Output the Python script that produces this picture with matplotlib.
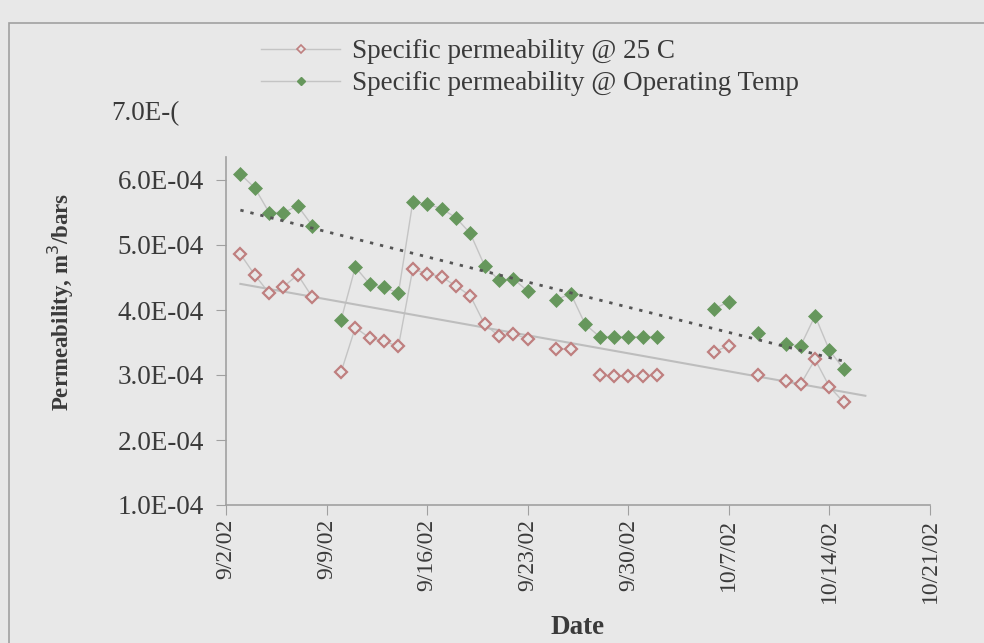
import numpy as np
import pandas as pd
import matplotlib
matplotlib.use("Agg")
import matplotlib.pyplot as plt
import matplotlib.dates as mdates
from matplotlib.lines import Line2D
from matplotlib.patches import Rectangle
import datetime as dt

plt.rcParams['font.family'] = ['Liberation Serif', 'DejaVu Serif']

# measurement days (2002)
dates = ['09-03', '09-04', '09-05', '09-06', '09-07', '09-08', '09-10', '09-11',
         '09-12', '09-13', '09-14', '09-15', '09-16', '09-17', '09-18', '09-19',
         '09-20', '09-21', '09-22', '09-23', '09-25', '09-26', '09-27', '09-28',
         '09-29', '09-30', '10-01', '10-02', '10-06', '10-07', '10-09', '10-11',
         '10-12', '10-13', '10-14', '10-15']

# specific permeability, units of 1e-4
perm_25c = [4.86, 4.54, 4.26, 4.36, 4.54, 4.20, 3.04, 3.73, 3.57, 3.52, 3.44, 4.63,
            4.56, 4.51, 4.37, 4.22, 3.78, 3.60, 3.63, 3.56, 3.40, 3.40, np.nan, 3.00,
            2.98, 2.98, 2.98, 3.00, 3.36, 3.45, 3.00, 2.91, 2.86, 3.24, 2.82, 2.58]
perm_op = [6.09, 5.88, 5.50, 5.50, 5.60, 5.30, 3.84, 4.66, 4.40, 4.35, 4.26, 5.66,
           5.63, 5.56, 5.42, 5.18, 4.68, 4.46, 4.48, 4.29, 4.16, 4.25, 3.78, 3.59,
           3.59, 3.59, 3.59, 3.59, 4.02, 4.13, 3.64, 3.47, 3.45, 3.91, 3.38, 3.09]

labels = ['Specific permeability @ 25 C', 'Specific permeability @ Operating Temp']

bg = '#e8e8e8'
red = '#bf7f7f'
green = '#66975c'
gray_line = '#c4c4c4'
axis_gray = '#a0a0a0'
txt = '#3a3a3a'
hsize = 19.5  # horizontal text
vsize = 17    # rotated text

idx = pd.to_datetime(['2002-' + d for d in dates])
red_s = pd.Series(np.array(perm_25c) * 1e-4, index=idx)
grn_s = pd.Series(np.array(perm_op) * 1e-4, index=idx)
days = pd.date_range(idx[0], idx[-1], freq='D')

fig = plt.figure(figsize=(9.84, 6.43), dpi=100, facecolor=bg)
ax = fig.add_axes([226 / 984, 1 - 505 / 643, 704 / 984, 390 / 643])
ax.set_facecolor(bg)

# thin connecting lines (gaps where a day is missing)
ax.plot(days, red_s.reindex(days).values, color=gray_line, lw=1, zorder=1)
ax.plot(days, grn_s.reindex(days).values, color=gray_line, lw=1, zorder=1)

# linear trendlines
xn = mdates.date2num(idx.to_pydatetime())
m = ~np.isnan(red_s.values)
pr = np.polyfit(xn[m], red_s.values[m], 1)
pg = np.polyfit(xn, grn_s.values, 1)
xr = np.array([xn[0], xn[-1] + 1.5])
xg = np.array([xn[0], xn[-1]])
ax.plot(xr, np.polyval(pr, xr), color='#bdbdbd', lw=1.5, zorder=2)
ax.plot(xg, np.polyval(pg, xg), color='#555555', lw=2, ls=(0, (1.2, 2.5)), zorder=4)

ax.plot(idx, red_s.values, ls='none', marker='D', ms=6, mfc=bg, mec=red, mew=1.6, zorder=3)
ax.plot(idx, grn_s.values, ls='none', marker='D', ms=7, mfc=green, mec=green, mew=0.5, zorder=3)

ax.set_xlim(dt.date(2002, 9, 2), dt.date(2002, 10, 21))
ax.set_ylim(1e-4, 7e-4)
ticks = pd.date_range('2002-09-02', '2002-10-21', freq='7D')
ax.set_xticks(ticks)
ax.set_xticklabels([f'{t.month}/{t.day}/02' for t in ticks], rotation=90)
yt = np.arange(1, 7) * 1e-4
ax.set_yticks(yt)
ax.set_yticklabels(['{:.1E}'.format(v) for v in yt])

for s in ['top', 'right']:
    ax.spines[s].set_visible(False)
for s in ['left', 'bottom']:
    ax.spines[s].set_color(axis_gray)
    ax.spines[s].set_linewidth(1.2)
ax.spines['left'].set_bounds(1e-4, 6.35e-4)
ax.tick_params(direction='out', length=7, color=axis_gray, labelcolor=txt)
ax.tick_params(axis='y', labelsize=hsize, pad=9)
ax.tick_params(axis='x', labelsize=vsize, pad=3)

fig.text(111 / 984, 1 - 114 / 643, '7.0E-(', fontsize=hsize, color=txt, va='center')
fig.text(61 / 984, 1 - 302 / 643, 'Permeability, m$^3$/bars', rotation=90,
         fontsize=16.5, fontweight='bold', color=txt, ha='center', va='center')
fig.text(578 / 984, 1 - 628 / 643, 'Date', fontsize=hsize, fontweight='bold',
         color=txt, ha='center', va='center')

handles = [Line2D([], [], color=gray_line, lw=1, marker='D', ms=4.5, mfc=bg, mec=red, mew=1.2),
           Line2D([], [], color=gray_line, lw=1, marker='D', ms=4.5, mfc=green, mec=green)]
fig.legend(handles, labels, loc='upper left', bbox_to_anchor=(237 / 984, 1 - 15 / 643),
           frameon=False, fontsize=hsize, handlelength=2.9, handletextpad=0.45,
           labelspacing=0.25, labelcolor=txt)

fig.add_artist(Rectangle((9 / 984, -0.1), 1.2, 1.1 - 23 / 643, transform=fig.transFigure,
                         fill=False, edgecolor=axis_gray, lw=1.2))

fig.savefig('out.png', dpi=100, facecolor=bg)
